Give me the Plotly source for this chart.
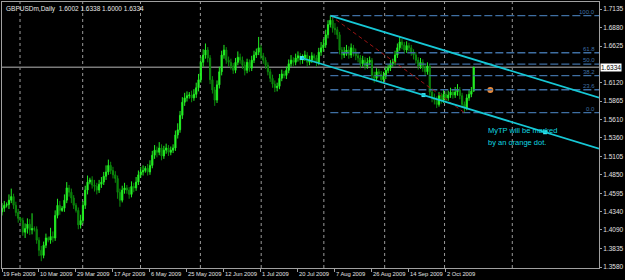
import plotly.graph_objects as go

symbol = "GBPUSDm,Daily"
last_ohlc = [1.6002, 1.6338, 1.6000, 1.6334]

date_labels = ["19 Feb 2009", "10 Mar 2009", "29 Mar 2009", "17 Apr 2009", "6 May 2009",
               "25 May 2009", "12 Jun 2009", "1 Jul 2009", "20 Jul 2009", "7 Aug 2009",
               "26 Aug 2009", "14 Sep 2009", "2 Oct 2009"]
label_bars = [0, 16, 32, 48, 64, 80, 96, 112, 128, 144, 160, 176, 192]

opens = [1.434,1.439,1.443,1.444,1.450,1.455,1.443,1.433,1.425,1.422,
 1.406,1.411,1.417,1.409,1.411,1.410,1.395,1.381,1.374,1.388,
 1.398,1.395,1.400,1.398,1.429,1.443,1.436,1.439,1.450,1.467,
 1.461,1.453,1.443,1.436,1.416,1.422,1.443,1.464,1.475,1.478,
 1.471,1.469,1.464,1.472,1.475,1.483,1.489,1.498,1.491,1.485,
 1.480,1.461,1.450,1.464,1.467,1.464,1.458,1.469,1.467,1.475,
 1.485,1.489,1.491,1.494,1.489,1.498,1.512,1.519,1.516,1.522,
 1.511,1.519,1.522,1.516,1.519,1.522,1.540,1.547,1.567,1.585,
 1.591,1.594,1.595,1.591,1.596,1.605,1.616,1.640,1.650,1.657,
 1.646,1.616,1.602,1.588,1.609,1.627,1.650,1.657,1.643,1.640,
 1.635,1.629,1.640,1.647,1.643,1.636,1.629,1.640,1.632,1.643,
 1.650,1.654,1.660,1.649,1.643,1.636,1.627,1.618,1.610,1.605,
 1.607,1.618,1.624,1.622,1.629,1.638,1.643,1.640,1.646,1.649,
 1.643,1.646,1.650,1.640,1.643,1.649,1.646,1.640,1.654,1.660,
 1.664,1.678,1.692,1.698,1.687,1.685,1.678,1.657,1.650,1.654,
 1.657,1.650,1.660,1.654,1.649,1.646,1.638,1.643,1.635,1.640,
 1.643,1.622,1.618,1.627,1.624,1.616,1.621,1.629,1.632,1.638,
 1.640,1.650,1.660,1.668,1.664,1.657,1.663,1.660,1.654,1.650,
 1.643,1.635,1.640,1.632,1.627,1.635,1.599,1.591,1.588,1.582,
 1.594,1.588,1.596,1.591,1.595,1.599,1.595,1.599,1.602,1.594,
 1.582,1.577,1.591,1.596,1.6002]

closes = [1.439,1.443,1.444,1.450,1.455,1.443,1.433,1.425,1.422,1.406,
 1.411,1.417,1.409,1.411,1.410,1.395,1.381,1.374,1.388,1.398,
 1.395,1.400,1.398,1.429,1.443,1.436,1.439,1.450,1.467,1.461,
 1.453,1.443,1.436,1.416,1.422,1.443,1.464,1.475,1.478,1.471,
 1.469,1.464,1.472,1.475,1.483,1.489,1.498,1.491,1.485,1.480,
 1.461,1.450,1.464,1.467,1.464,1.458,1.469,1.467,1.475,1.485,
 1.489,1.491,1.494,1.489,1.498,1.512,1.519,1.516,1.522,1.511,
 1.519,1.522,1.516,1.519,1.522,1.540,1.547,1.567,1.585,1.591,
 1.594,1.595,1.591,1.596,1.605,1.616,1.640,1.650,1.657,1.646,
 1.616,1.602,1.588,1.609,1.627,1.650,1.657,1.643,1.640,1.635,
 1.629,1.640,1.647,1.643,1.636,1.629,1.640,1.632,1.643,1.650,
 1.654,1.660,1.649,1.643,1.636,1.627,1.618,1.610,1.605,1.607,
 1.618,1.624,1.622,1.629,1.638,1.643,1.640,1.646,1.649,1.643,
 1.646,1.650,1.640,1.643,1.649,1.646,1.640,1.654,1.660,1.664,
 1.678,1.692,1.698,1.687,1.685,1.678,1.657,1.650,1.654,1.657,
 1.650,1.660,1.654,1.649,1.646,1.638,1.643,1.635,1.640,1.643,
 1.622,1.618,1.627,1.624,1.616,1.621,1.629,1.632,1.638,1.640,
 1.650,1.660,1.668,1.664,1.657,1.663,1.660,1.654,1.650,1.643,
 1.635,1.640,1.632,1.627,1.635,1.599,1.591,1.588,1.582,1.594,
 1.588,1.596,1.591,1.595,1.599,1.595,1.599,1.602,1.594,1.582,
 1.577,1.591,1.596,1.6002,1.6334]

highs = [1.446,1.449,1.447,1.458,1.466,1.459,1.448,1.438,1.427,1.426,
 1.418,1.425,1.424,1.432,1.414,1.414,1.399,1.387,1.393,1.404,
 1.400,1.412,1.407,1.436,1.452,1.449,1.442,1.458,1.475,1.471,
 1.466,1.457,1.446,1.440,1.430,1.449,1.470,1.484,1.481,1.483,
 1.478,1.474,1.478,1.482,1.489,1.498,1.506,1.503,1.496,1.490,
 1.484,1.466,1.470,1.474,1.471,1.468,1.476,1.474,1.482,1.491,
 1.496,1.498,1.497,1.500,1.505,1.518,1.526,1.524,1.530,1.527,
 1.525,1.528,1.526,1.524,1.527,1.546,1.556,1.573,1.592,1.598,
 1.600,1.599,1.601,1.603,1.612,1.624,1.648,1.658,1.666,1.661,
 1.650,1.621,1.606,1.615,1.634,1.656,1.664,1.661,1.648,1.645,
 1.639,1.646,1.655,1.652,1.648,1.641,1.645,1.644,1.649,1.656,
 1.659,1.675,1.664,1.653,1.647,1.640,1.631,1.623,1.615,1.612,
 1.624,1.630,1.628,1.634,1.644,1.650,1.647,1.652,1.655,1.653,
 1.651,1.656,1.654,1.649,1.654,1.652,1.650,1.660,1.668,1.672,
 1.685,1.698,1.7043,1.702,1.694,1.689,1.682,1.661,1.661,1.664,
 1.662,1.666,1.664,1.659,1.653,1.650,1.649,1.647,1.646,1.648,
 1.646,1.627,1.632,1.631,1.628,1.627,1.634,1.637,1.643,1.645,
 1.656,1.666,1.676,1.672,1.668,1.669,1.667,1.664,1.658,1.654,
 1.647,1.646,1.644,1.637,1.640,1.638,1.604,1.597,1.593,1.599,
 1.598,1.602,1.600,1.601,1.605,1.603,1.606,1.610,1.606,1.598,
 1.586,1.596,1.602,1.606,1.6338]

lows = [1.429,1.434,1.440,1.438,1.446,1.438,1.428,1.419,1.419,1.401,
 1.398,1.404,1.402,1.403,1.407,1.390,1.373,1.366,1.370,1.384,
 1.392,1.390,1.392,1.394,1.425,1.430,1.434,1.434,1.446,1.455,
 1.446,1.438,1.433,1.410,1.411,1.418,1.438,1.458,1.472,1.466,
 1.462,1.458,1.460,1.467,1.471,1.478,1.485,1.486,1.480,1.474,
 1.452,1.441,1.447,1.459,1.459,1.452,1.454,1.461,1.463,1.471,
 1.481,1.484,1.488,1.484,1.485,1.494,1.507,1.509,1.512,1.505,
 1.507,1.514,1.511,1.512,1.515,1.518,1.535,1.543,1.562,1.580,
 1.586,1.590,1.585,1.587,1.591,1.600,1.612,1.634,1.645,1.640,
 1.610,1.597,1.580,1.584,1.604,1.622,1.645,1.638,1.634,1.630,
 1.624,1.625,1.636,1.638,1.631,1.622,1.625,1.627,1.628,1.639,
 1.646,1.650,1.644,1.638,1.631,1.622,1.613,1.605,1.599,1.600,
 1.603,1.614,1.618,1.617,1.625,1.634,1.635,1.636,1.641,1.637,
 1.638,1.642,1.634,1.636,1.639,1.640,1.634,1.636,1.649,1.655,
 1.660,1.673,1.688,1.681,1.678,1.672,1.651,1.644,1.646,1.649,
 1.645,1.646,1.648,1.643,1.640,1.632,1.634,1.630,1.631,1.636,
 1.617,1.612,1.614,1.619,1.611,1.612,1.617,1.625,1.628,1.634,
 1.636,1.646,1.656,1.658,1.652,1.653,1.655,1.649,1.644,1.638,
 1.630,1.631,1.627,1.621,1.623,1.594,1.585,1.582,1.577,1.579,
 1.583,1.584,1.586,1.587,1.591,1.590,1.591,1.594,1.589,1.577,
 1.5707,1.574,1.587,1.592,1.6000]

price_ticks = [1.7135, 1.6880, 1.6625, 1.6120, 1.5865, 1.5610, 1.5360, 1.5105,
               1.4850, 1.4595, 1.4340, 1.4090, 1.3835, 1.3580]

fib_high_bar, fib_high = 142, 1.7043
fib_low_bar, fib_low = 200, 1.5707
fib_ratios = [0.0, 0.236, 0.382, 0.5, 0.618, 1.0]

channel_base = [(129.7, 1.6460), (234.9, 1.5437)]
channel_mid = (182.3, 1.5949)
tp_bar, tp_price = 211.2, 1.6019
tp_text = ["MyTP will be marked", "by an orange dot."]
month_bars = [7.8, 34.9, 59.9, 85.8, 112.1, 139.2, 165.5, 191.4, 220.7]

XMIN, XMAX = 0.0, 258.2
YMIN, YMAX = 1.35662, 1.72314
FONT = "Liberation Sans"
GRID = "#9a9a9a"
FIBC = "#3f6fa3"
CYAN = "#16c8d6"

x = list(range(len(closes)))
fig = go.Figure()
fig.add_trace(go.Candlestick(
    x=x, open=opens, high=highs, low=lows, close=closes,
    increasing=dict(line=dict(color="#22ee22", width=1), fillcolor="#33ff33"),
    decreasing=dict(line=dict(color="#0c8a0c", width=1), fillcolor="#0a6e0a"),
    whiskerwidth=0, hoverinfo="skip", showlegend=False))

shapes = []
for mb in month_bars:
    shapes.append(dict(type="line", xref="x", yref="paper", x0=mb, x1=mb, y0=0, y1=1,
                       line=dict(color=GRID, width=1, dash="dot"), layer="below"))
# bid line
shapes.append(dict(type="line", xref="paper", yref="y", x0=0, x1=1, y0=last_ohlc[3], y1=last_ohlc[3],
                   line=dict(color="#7a7a7a", width=1.5), layer="below"))
# fibonacci levels
annotations = []
for r in fib_ratios:
    lv = fib_low + r * (fib_high - fib_low)
    shapes.append(dict(type="line", xref="x", yref="y", x0=fib_high_bar, x1=XMAX, y0=lv, y1=lv,
                       line=dict(color=FIBC, width=1.4, dash="8px,3px")))
    annotations.append(dict(x=XMAX, y=lv, xref="x", yref="y", text=f"{r*100:.1f}", showarrow=False,
                            xanchor="right", yanchor="bottom", xshift=-2, yshift=-1,
                            font=dict(family=FONT, size=6, color=FIBC)))
# fibo trend line
shapes.append(dict(type="line", xref="x", yref="y", x0=fib_high_bar, y0=fib_high, x1=fib_low_bar, y1=fib_low,
                   line=dict(color="#9a1414", width=1, dash="4px,3px")))
# channel
(bx0, by0), (bx1, by1) = channel_base
slope = (by1 - by0) / (bx1 - bx0)
shapes.append(dict(type="line", xref="x", yref="y", x0=bx0, y0=by0, x1=XMAX, y1=by0 + slope * (XMAX - bx0),
                   line=dict(color=CYAN, width=1.7)))
shapes.append(dict(type="line", xref="x", yref="y", x0=fib_high_bar, y0=fib_high, x1=XMAX,
                   y1=fib_high + slope * (XMAX - fib_high_bar), line=dict(color=CYAN, width=1.7)))

fig.add_trace(go.Scatter(x=[bx0, channel_mid[0], bx1], y=[by0, channel_mid[1], by1], mode="markers",
                         marker=dict(symbol="square", size=4, color="#40e8f0"), hoverinfo="skip", showlegend=False))
fig.add_trace(go.Scatter(x=[tp_bar], y=[tp_price], mode="markers",
                         marker=dict(size=6, color="#e8893a"), hoverinfo="skip", showlegend=False))

annotations.append(dict(x=tp_bar - 1.7, y=1.5454, xref="x", yref="y", text=tp_text[0], showarrow=False,
                        xanchor="left", yanchor="middle", font=dict(family=FONT, size=7.5, color="#10d8e0")))
annotations.append(dict(x=tp_bar - 1.7, y=1.5302, xref="x", yref="y", text=tp_text[1], showarrow=False,
                        xanchor="left", yanchor="middle", font=dict(family=FONT, size=7.5, color="#10d8e0")))
annotations.append(dict(x=0, y=1, xref="paper", yref="paper", xshift=2, yshift=-1,
                        text=symbol + "  " + " ".join(f"{v:.4f}" for v in last_ohlc), showarrow=False,
                        xanchor="left", yanchor="top", font=dict(family=FONT, size=6.5, color="#e8e8e8")))
annotations.append(dict(x=1, y=last_ohlc[3], xref="paper", yref="y", text=f"{last_ohlc[3]:.4f}", showarrow=False,
                        xanchor="left", yanchor="middle", xshift=1, bgcolor="#ffffff", borderpad=0,
                        font=dict(family=FONT, size=6.5, color="#000000")))

fig.update_layout(
    width=625, height=280, margin=dict(l=1, r=25, t=2, b=12),
    paper_bgcolor="#000000", plot_bgcolor="#000000",
    shapes=shapes, annotations=annotations, showlegend=False,
    xaxis=dict(range=[XMIN, XMAX], tickvals=label_bars, ticktext=date_labels, tickangle=0,
               ticklabelposition="outside right", ticks="outside", ticklen=3, tickcolor="#a0a0a0",
               tickfont=dict(family=FONT, size=5.8, color="#e0e0e0"), showgrid=False, zeroline=False,
               showline=True, linecolor="#a0a0a0", linewidth=1, mirror=True, rangeslider=dict(visible=False)),
    yaxis=dict(range=[YMIN, YMAX], side="right", tickvals=price_ticks, ticktext=[f"{t:.4f}" for t in price_ticks],
               ticks="outside", ticklen=2, tickcolor="#a0a0a0",
               tickfont=dict(family=FONT, size=6.5, color="#e0e0e0"), showgrid=False, zeroline=False,
               showline=True, linecolor="#a0a0a0", linewidth=1, mirror=True),
)

fig.write_html("out.html")
